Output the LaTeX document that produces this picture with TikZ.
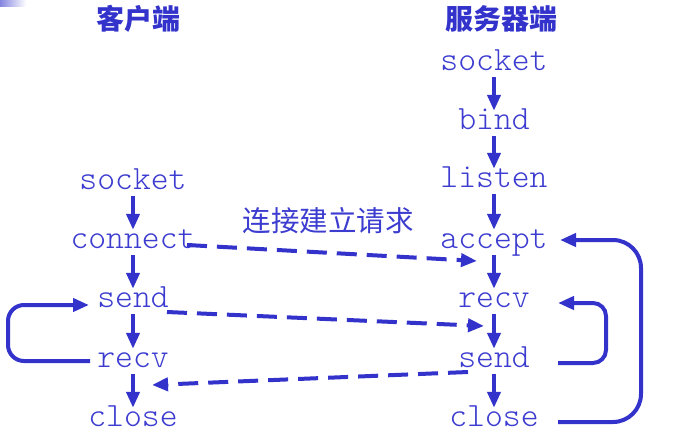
\documentclass[tikz,border=0pt]{standalone}
\usepackage{fontspec}
\newfontfamily\cjk{Noto Sans CJK SC}
\newfontfamily\lmlight{lmmonolt10-regular.otf}
\usetikzlibrary{arrows.meta}
\definecolor{ink}{RGB}{51,51,204}
\definecolor{tink}{RGB}{60,60,208}
\begin{document}
\begin{tikzpicture}[x=1pt,y=-1pt,
  fn/.style={font=\lmlight\fontsize{34}{34}\selectfont, text=tink, inner sep=0pt, text height=18pt, text depth=5pt, anchor=base},
  ttl/.style={font=\cjk\bfseries\fontsize{28}{28}\selectfont, text=ink, inner sep=0pt},
  lbl/.style={font=\cjk\fontsize{28.5}{28.5}\selectfont, text=tink, inner sep=0pt},
  tip/.style={-{Triangle[length=16pt,width=13pt]}},
  flow/.style={draw=ink, line width=4pt, tip},
  msg/.style={draw=ink, line width=4pt, dash pattern=on 20pt off 10pt, tip},
  loopline/.style={draw=ink, line width=4pt, tip}]
\useasboundingbox (0,0) rectangle (678,437);
\shade[left color=ink!60!white, right color=white] (0,0) rectangle (26,6);

\node[ttl] (tc) at (138,19) {客户端};
\node[ttl] (ts) at (501,19) {服务器端};
\node[lbl] (req) at (328,221) {连接建立请求};

% client
\node[fn] (csock) at (133,189) {socket};
\node[fn] (cconn) at (133,248) {connect};
\node[fn] (csend) at (133,307) {send};
\node[fn] (crecv) at (133,367) {recv};
\node[fn] (cclose) at (133,426) {close};

% server
\node[fn] (ssock) at (494,70) {socket};
\node[fn] (sbind) at (494,129) {bind};
\node[fn] (slist) at (494,187) {listen};
\node[fn] (sacc) at (494,248) {accept};
\node[fn] (srecv) at (494,307) {recv};
\node[fn] (ssend) at (494,367) {send};
\node[fn] (sclose) at (494,426) {close};

\foreach \a/\b in {csock/cconn,cconn/csend,csend/crecv,crecv/cclose,
                   ssock/sbind,sbind/slist,slist/sacc,sacc/srecv,srecv/ssend,ssend/sclose}
  \draw[flow, shorten <=2pt] (\a.south) -- (\b.north);

% messages
\coordinate (m1a) at (187,245); \coordinate (m1b) at (477,261);
\coordinate (m2a) at (167,312); \coordinate (m2b) at (484,326);
\coordinate (m3a) at (468,372); \coordinate (m3b) at (152,385);
\draw[msg] (m1a) -- (m1b);
\draw[msg] (m2a) -- (m2b);
\draw[msg] (m3a) -- (m3b);

% loops
\coordinate (l1a) at (90,361); \coordinate (l1b) at (89,305);
\draw[loopline, rounded corners=16pt] (l1a) -- (8,361) -- (8,305) -- (l1b);
\coordinate (l2a) at (558,363); \coordinate (l2b) at (558,303);
\draw[loopline, rounded corners=13pt] (l2a) -- (606,363) -- (606,303) -- (l2b);
\coordinate (l3a) at (558,422); \coordinate (l3b) at (560,240);
\draw[loopline, rounded corners=28pt] (l3a) -- (641,422) -- (641,240) -- (l3b);
\end{tikzpicture}
\end{document}
